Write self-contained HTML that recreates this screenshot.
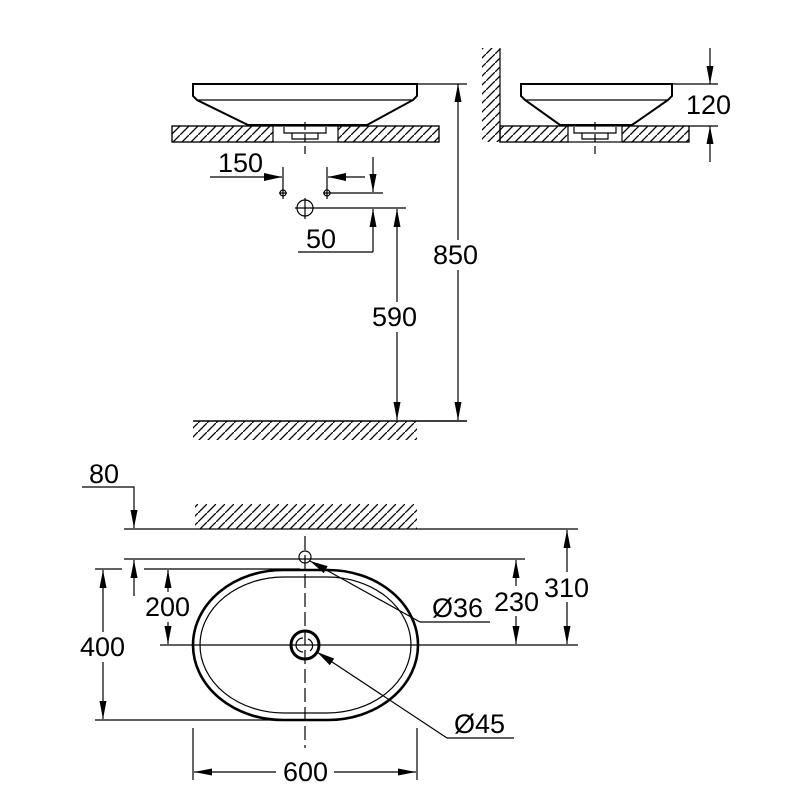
<!DOCTYPE html>
<html><head><meta charset="utf-8"><style>
html,body{margin:0;padding:0;background:#fff;}
svg{display:block;}
text{font-family:"Liberation Sans",sans-serif;font-size:27px;fill:#000;}
</style></head><body>
<svg width="800" height="800" viewBox="0 0 800 800" xmlns="http://www.w3.org/2000/svg">
<defs>
<pattern id="h" patternUnits="userSpaceOnUse" width="9" height="9">
<path d="M-2,11 L11,-2" stroke="#000" stroke-width="1.3"/>
</pattern>
<marker id="a" viewBox="0 0 18 7" refX="18" refY="3.5" markerWidth="18" markerHeight="7" orient="auto-start-reverse" markerUnits="userSpaceOnUse">
<path d="M0,0 L18,3.5 L0,7 z" fill="#000"/>
</marker>
<marker id="b" viewBox="0 0 18 8" refX="18" refY="4" markerWidth="18" markerHeight="8" orient="auto-start-reverse" markerUnits="userSpaceOnUse">
<path d="M0,0 L18,4 L0,8 z" fill="#000"/>
</marker>
</defs>
<g fill="none" stroke="#000" stroke-width="1.2">
<path d="M193,84 H417 V96 L413,100 L367,125 H248 L197,100 L193,96 Z" stroke-width="2"/>
<line x1="197" y1="100" x2="413" y2="100"/>
<rect x="172" y="126" width="101" height="16" fill="url(#h)"/>
<rect x="338" y="126" width="101" height="16" fill="url(#h)"/>
<rect x="172" y="126" width="267" height="16"/>
<path d="M284,127 V133 H326 V127 M292,133 V139 H318 V133"/>
<line x1="305" y1="122" x2="305" y2="156" stroke-dasharray="8,4"/>
<line x1="210" y1="177" x2="282" y2="177" marker-end="url(#b)"/>
<line x1="283" y1="167" x2="283" y2="199"/>
<circle cx="283" cy="193" r="3"/><line x1="279" y1="193" x2="287" y2="193"/>
<line x1="365" y1="177" x2="328" y2="177" marker-end="url(#b)"/>
<line x1="327" y1="167" x2="327" y2="199"/>
<circle cx="327" cy="193" r="3"/><line x1="323" y1="193" x2="331" y2="193"/>
<line x1="373" y1="157" x2="373" y2="192" marker-end="url(#a)"/>
<line x1="330" y1="193" x2="383" y2="193"/>
<circle cx="305" cy="208" r="8"/>
<line x1="295" y1="208" x2="406" y2="208"/>
<line x1="305" y1="198" x2="305" y2="219"/>
<line x1="373" y1="252" x2="373" y2="209" marker-end="url(#a)"/>
<line x1="298" y1="252" x2="373" y2="252"/>
<line x1="397" y1="209" x2="397" y2="420" marker-start="url(#a)" marker-end="url(#a)"/>
<line x1="417" y1="84" x2="467" y2="84"/>
<line x1="458" y1="84" x2="458" y2="420" marker-start="url(#a)" marker-end="url(#a)"/>
<rect x="193" y="421" width="224" height="19" fill="url(#h)" stroke="none"/>
<line x1="193" y1="421" x2="467" y2="421" stroke-width="1.6"/>
<rect x="482" y="48" width="18" height="94" fill="url(#h)" stroke="none"/>
<line x1="500" y1="48" x2="500" y2="142"/>
<path d="M521,84 H672 V96 L668,100 L632,125 H560 L525,100 L521,96 Z" stroke-width="2"/>
<line x1="525" y1="100" x2="668" y2="100"/>
<rect x="500" y="126" width="68" height="16" fill="url(#h)"/>
<rect x="622" y="126" width="67" height="16" fill="url(#h)"/>
<rect x="500" y="126" width="189" height="16"/>
<path d="M574,127 V133 H616 V127 M582,133 V139 H608 V133"/>
<line x1="595" y1="122" x2="595" y2="156" stroke-dasharray="8,4"/>
<line x1="672" y1="84" x2="718" y2="84"/>
<line x1="689" y1="126" x2="718" y2="126"/>
<line x1="710" y1="48" x2="710" y2="84" marker-end="url(#a)"/>
<line x1="710" y1="162" x2="710" y2="126" marker-end="url(#a)"/>
<rect x="195" y="504" width="222" height="25" fill="url(#h)" stroke="none"/>
<line x1="124" y1="529" x2="578" y2="529"/>
<line x1="124" y1="559" x2="525" y2="559"/>
<line x1="95" y1="569" x2="122" y2="569"/>
<line x1="144" y1="569" x2="300" y2="569"/>
<line x1="95" y1="720" x2="300" y2="720"/>
<line x1="160" y1="645" x2="578" y2="645"/>
<polyline points="82,487 134,487 134,528" marker-end="url(#a)"/>
<line x1="134" y1="596" x2="134" y2="560" marker-end="url(#a)"/>
<line x1="103" y1="570" x2="103" y2="719" marker-start="url(#a)" marker-end="url(#a)"/>
<line x1="168" y1="570" x2="168" y2="644" marker-start="url(#a)" marker-end="url(#a)"/>
<line x1="516" y1="560" x2="516" y2="644" marker-start="url(#a)" marker-end="url(#a)"/>
<line x1="567" y1="530" x2="567" y2="644" marker-start="url(#a)" marker-end="url(#a)"/>
<rect x="193" y="570" width="225" height="150" rx="90" ry="75" stroke-width="2.6"/>
<rect x="200" y="577" width="211" height="136" rx="84" ry="68"/>
<line x1="305" y1="536" x2="305" y2="748" stroke-dasharray="14,5"/>
<circle cx="305" cy="557" r="6"/>
<circle cx="305" cy="645" r="14" stroke-width="3"/>
<path d="M303,638 A7,7 0 1 0 303,652"/>
<path d="M308,639 A7,7 0 0 1 310,651"/>
<polyline points="420,622 490,622"/>
<line x1="420" y1="622" x2="310" y2="561" marker-end="url(#b)"/>
<polyline points="447,738 514,738"/>
<line x1="447" y1="738" x2="317" y2="652" marker-end="url(#b)"/>
<line x1="193" y1="728" x2="193" y2="780"/>
<line x1="417" y1="728" x2="417" y2="780"/>
<line x1="276" y1="772" x2="194" y2="772" marker-end="url(#a)"/>
<line x1="334" y1="772" x2="416" y2="772" marker-end="url(#a)"/>
</g>
<g fill="#fff">
<rect x="370" y="302" width="48" height="30"/>
<rect x="431" y="240" width="50" height="30"/>
<rect x="78" y="632" width="50" height="30"/>
<rect x="143" y="592" width="50" height="30"/>
<rect x="492" y="586" width="50" height="30"/>
<rect x="542" y="572" width="50" height="30"/>
</g>
<text x="218" y="172">150</text>
<text x="306" y="248">50</text>
<text x="372" y="326">590</text>
<text x="433" y="264">850</text>
<text x="686" y="114">120</text>
<text x="89" y="483">80</text>
<text x="145" y="616">200</text>
<text x="80" y="656">400</text>
<text x="432" y="617">Ø36</text>
<text x="494" y="611">230</text>
<text x="544" y="597">310</text>
<text x="454" y="733">Ø45</text>
<text x="283" y="781">600</text>
</svg>
</body></html>
